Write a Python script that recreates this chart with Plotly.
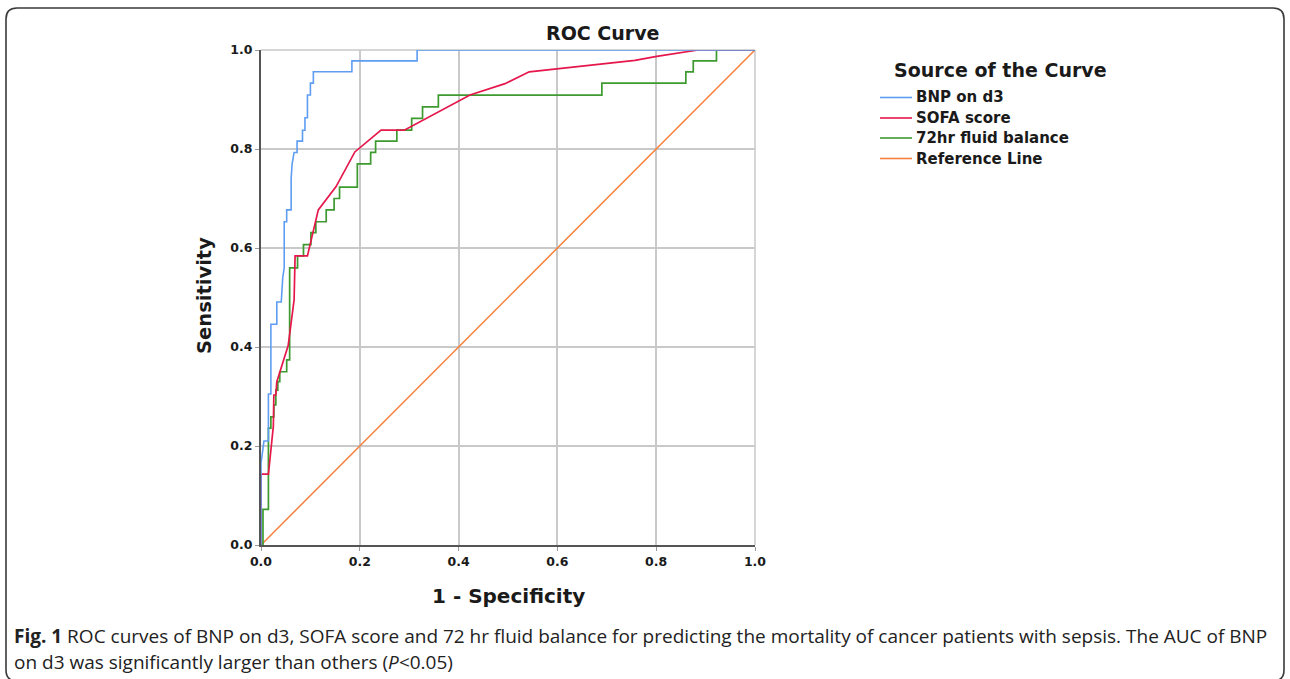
import plotly.graph_objects as go

# ---------------- data ----------------
bnp_fpr = [0, 0, 0.006, 0.015, 0.015, 0.020, 0.020, 0.032, 0.032, 0.041, 0.044, 0.047, 0.047,
           0.052, 0.052, 0.061, 0.061, 0.063, 0.067, 0.073, 0.073, 0.084, 0.084, 0.089, 0.089,
           0.094, 0.094, 0.100, 0.100, 0.106, 0.106, 0.184, 0.184, 0.316, 0.316, 1.0]
bnp_tpr = [0, 0.165, 0.210, 0.210, 0.305, 0.305, 0.446, 0.446, 0.491, 0.491, 0.540, 0.560, 0.653,
           0.653, 0.677, 0.677, 0.740, 0.770, 0.793, 0.793, 0.816, 0.816, 0.838, 0.838, 0.863,
           0.863, 0.909, 0.909, 0.933, 0.933, 0.956, 0.956, 0.978, 0.978, 1.0, 1.0]

sofa_fpr = [0, 0, 0.015, 0.020, 0.025, 0.026, 0.030, 0.032, 0.055, 0.067, 0.069, 0.094,
            0.116, 0.152, 0.190, 0.243, 0.290, 0.423, 0.494, 0.543, 0.757, 0.801, 0.885, 1.0]
sofa_tpr = [0, 0.143, 0.143, 0.188, 0.240, 0.303, 0.303, 0.330, 0.403, 0.495, 0.584, 0.584,
            0.677, 0.724, 0.794, 0.838, 0.838, 0.909, 0.932, 0.956, 0.979, 0.987, 1.0, 1.0]

fluid_fpr = [0, 0.004, 0.015, 0.020, 0.026, 0.030, 0.034, 0.038, 0.052, 0.058, 0.074, 0.086,
             0.101, 0.111, 0.132, 0.148, 0.159, 0.195, 0.222, 0.232, 0.275, 0.305, 0.327,
             0.359, 0.690, 0.860, 0.875, 0.922, 1.0]
fluid_tpr = [0, 0.072, 0.236, 0.259, 0.283, 0.313, 0.330, 0.350, 0.374, 0.560, 0.584, 0.607,
             0.631, 0.653, 0.677, 0.700, 0.723, 0.770, 0.793, 0.816, 0.838, 0.862, 0.885,
             0.909, 0.933, 0.956, 0.978, 1.0, 1.0]

ref_x = [0, 1]
ref_y = [0, 1]

tick_vals = [0, 0.2, 0.4, 0.6, 0.8, 1.0]
tick_text = ["0.0", "0.2", "0.4", "0.6", "0.8", "1.0"]

series_names = ["BNP on d3", "SOFA score", "72hr fluid balance", "Reference Line"]
series_colors = ["#5E9DF2", "#E5174B", "#3C9A2F", "#F6803C"]

# ---------------- layout geometry ----------------
W, H = 1290, 679
L, R, T, B = 261, 755, 50, 545  # plot area in pixels


def px(x):
    return (x - L) / (R - L)


def py(y):
    return (B - y) / (B - T)


FONT = "DejaVu Sans, Liberation Sans, Arial, sans-serif"

fig = go.Figure()
fig.add_trace(go.Scatter(x=ref_x, y=ref_y, mode="lines", name=series_names[3],
                         line=dict(color=series_colors[3], width=1.5)))
fig.add_trace(go.Scatter(x=fluid_fpr, y=fluid_tpr, mode="lines", name=series_names[2],
                         line=dict(color=series_colors[2], width=1.7, shape="hv")))
fig.add_trace(go.Scatter(x=sofa_fpr, y=sofa_tpr, mode="lines", name=series_names[1],
                         line=dict(color=series_colors[1], width=1.7)))
fig.add_trace(go.Scatter(x=bnp_fpr, y=bnp_tpr, mode="lines", name=series_names[0],
                         line=dict(color=series_colors[0], width=1.6)))

axis_common = dict(
    range=[0, 1], tickvals=tick_vals, ticktext=tick_text,
    showgrid=True, gridcolor="#C9C9C9", gridwidth=1.5,
    zeroline=False, showline=True, linecolor="#555555", linewidth=2,
    ticks="outside", ticklen=4, tickcolor="#9A9A9A", tickwidth=1,
    tickfont=dict(family=FONT, size=12.5, color="#1a1a1a", weight="bold"),
    automargin=False, fixedrange=True,
)

fig.update_layout(
    width=W, height=H,
    margin=dict(l=L, r=W - R, t=T, b=H - B, pad=0),
    paper_bgcolor="white", plot_bgcolor="white",
    showlegend=False,
    xaxis=dict(axis_common, ticklabelstandoff=0),
    yaxis=dict(axis_common, ticklabelstandoff=0),
)

shapes = []
# top and right frame (light, like gridlines)
shapes.append(dict(type="line", xref="paper", yref="paper", x0=0, x1=1, y0=1, y1=1,
                   line=dict(color="#C9C9C9", width=1.5), layer="below"))
shapes.append(dict(type="line", xref="paper", yref="paper", x0=1, x1=1, y0=0, y1=1,
                   line=dict(color="#C9C9C9", width=1.5), layer="below"))

# outer rounded frame of the figure panel
x_l, x_r, y_t, y_b, rad = 6, 1284, 8, 681, 11
path = (f"M {px(x_l + rad)},{py(y_b)} Q {px(x_l)},{py(y_b)} {px(x_l)},{py(y_b - rad)} "
        f"L {px(x_l)},{py(y_t + rad)} "
        f"Q {px(x_l)},{py(y_t)} {px(x_l + rad)},{py(y_t)} "
        f"L {px(x_r - rad)},{py(y_t)} Q {px(x_r)},{py(y_t)} {px(x_r)},{py(y_t + rad)} "
        f"L {px(x_r)},{py(y_b - rad)} Q {px(x_r)},{py(y_b)} {px(x_r - rad)},{py(y_b)}")
shapes.append(dict(type="path", xref="paper", yref="paper", path=path,
                   line=dict(color="#3a3a3a", width=1.6)))

# legend line samples
leg_rows = [97.5, 118, 138, 158.5]
for name, col, yy in zip(series_names, series_colors, leg_rows):
    shapes.append(dict(type="line", xref="paper", yref="paper",
                       x0=px(880), x1=px(912), y0=py(yy), y1=py(yy),
                       line=dict(color=col, width=1.6)))

annotations = []
annotations.append(dict(text="<b>ROC Curve</b>", x=px(602), y=py(33), xref="paper", yref="paper",
                        showarrow=False, xanchor="center", yanchor="middle",
                        font=dict(family=FONT, size=19, color="#1a1a1a")))
annotations.append(dict(text="<b>1 - Specificity</b>", x=px(508), y=py(596), xref="paper",
                        yref="paper", showarrow=False, xanchor="center", yanchor="middle",
                        font=dict(family=FONT, size=20, color="#1a1a1a")))
annotations.append(dict(text="<b>Sensitivity</b>", x=px(204), y=py(296), xref="paper",
                        yref="paper", showarrow=False, xanchor="center", yanchor="middle",
                        textangle=-90, font=dict(family=FONT, size=19.5, color="#1a1a1a")))
annotations.append(dict(text="<b>Source of the Curve</b>", x=px(892), y=py(70), xref="paper",
                        yref="paper", showarrow=False, xanchor="left", yanchor="middle",
                        font=dict(family=FONT, size=19, color="#1a1a1a")))
for name, yy in zip(series_names, leg_rows):
    annotations.append(dict(text=f"<b>{name}</b>", x=px(914), y=py(yy), xref="paper",
                            yref="paper", showarrow=False, xanchor="left", yanchor="middle",
                            font=dict(family=FONT, size=15, color="#1a1a1a")))

CAP_FONT = "Open Sans, sans-serif"
cap1 = ("<b>Fig. 1</b> ROC curves of BNP on d3, SOFA score and 72 hr fluid balance for predicting "
        "the mortality of cancer patients with sepsis. The AUC of BNP")
cap2 = "on d3 was significantly larger than others (<i>P</i>&lt;0.05)"
for txt, yy in ((cap1, 636), (cap2, 662)):
    annotations.append(dict(text=txt,
                            x=px(12), y=py(yy), xref="paper", yref="paper",
                            showarrow=False, xanchor="left", yanchor="middle",
                            font=dict(family=CAP_FONT, size=19, color="#222222")))

fig.update_layout(shapes=shapes, annotations=annotations)

fig.write_html("out.html", config={"displayModeBar": False},
               post_script="document.body.style.margin='0px';")
